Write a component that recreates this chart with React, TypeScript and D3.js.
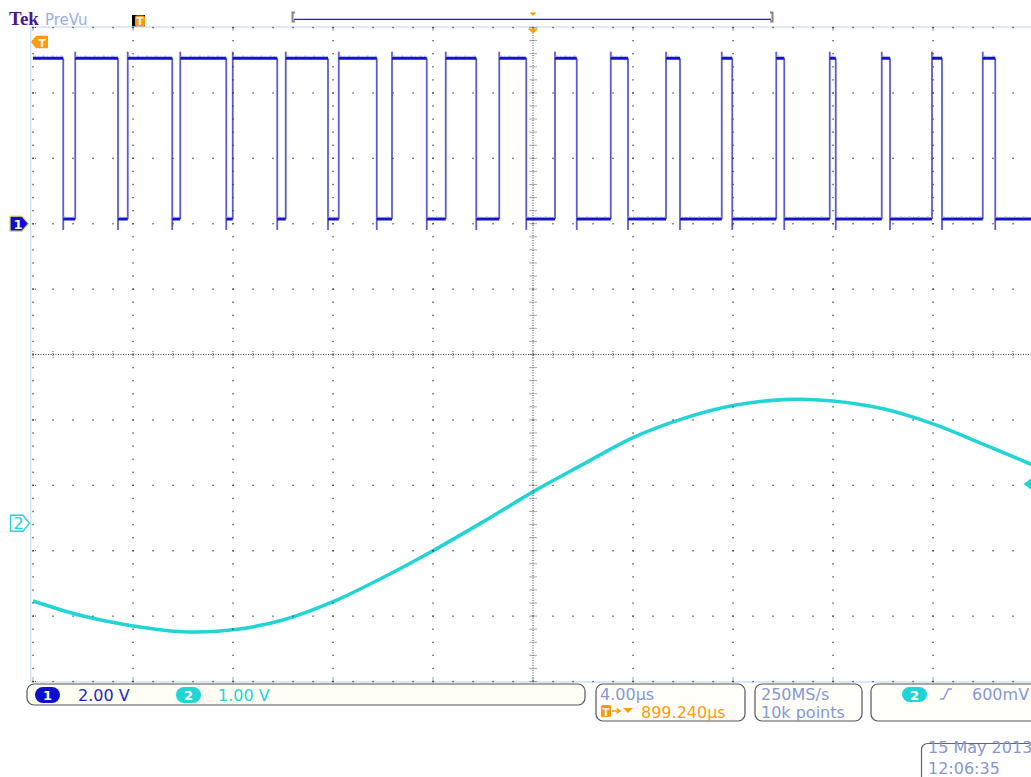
import React from "react";
import * as d3 from "d3";

// screen is 10 x 10 divisions, trigger point in the middle
const timePerDiv = 4; // µs/div
const ch1VoltsPerDiv = 2;
const ch2VoltsPerDiv = 1;

// channel 1: PWM square wave, edge times in µs
const ch1Falls = [-18.79, -16.6, -14.43, -12.27, -10.23, -8.2, -6.25, -4.25, -2.27, -0.27, 1.75, 3.8, 5.88, 7.97, 10.05, 12.11, 14.28, 16.36, 18.49];
const ch1Rises = [-18.31, -16.21, -14.11, -12.01, -9.89, -7.77, -5.64, -3.49, -1.35, 0.88, 3.11, 5.32, 7.55, 9.73, 11.87, 13.95, 15.96, 17.99];
const ch1High = 5.06;
const ch1Low = 0.14;
const ch1Over = 5.26;
const ch1Under = -0.19;

// channel 2: sine read every half division
const ch2Times = [-20, -18, -16, -14, -12, -10, -8, -6, -4, -2, 0, 2, 4, 6, 8, 10, 12, 14, 16, 18, 20];
const ch2Volts = [-1.19, -1.42, -1.57, -1.66, -1.63, -1.48, -1.2, -0.83, -0.42, 0.02, 0.48, 0.9, 1.31, 1.6, 1.8, 1.89, 1.87, 1.75, 1.52, 1.21, 0.89];

const ch1Offset = 2; // ground marker, divisions above centre
const ch2Offset = -2.58;
const triggerLevel = 0.6;

const statusLeft = ["2.00 V", "1.00 V"];
const horizLines = ["4.00µs", "899.240µs"];
const acqLines = ["250MS/s", "10k points"];
const trigText = "600mV";
const dateLines = ["15 May 2013", "12:06:35"];

const TEXT = "#8598d2";
const ORANGE = "#ff9a0e";
const BLUE = "#1414c8";
const CYAN = "#22d4d6";
const FONT = "DejaVu Sans, sans-serif";

export default function App() {
  const left = 33, top = 27.5, divW = 100, divH = 65.4;
  const gx = d3.scaleLinear().domain([0, 10]).range([left, left + 10 * divW]);
  const gy = d3.scaleLinear().domain([0, 10]).range([top, top + 10 * divH]);
  const x = d3.scaleLinear().domain([-5 * timePerDiv, 5 * timePerDiv]).range([gx(0), gx(10)]);
  const y1 = d3.scaleLinear()
    .domain([(-5 - ch1Offset) * ch1VoltsPerDiv, (5 - ch1Offset) * ch1VoltsPerDiv])
    .range([gy(10), gy(0)]);
  const y2 = d3.scaleLinear()
    .domain([(-5 - ch2Offset) * ch2VoltsPerDiv, (5 - ch2Offset) * ch2VoltsPerDiv])
    .range([gy(10), gy(0)]);

  const minors = d3.range(0, 10.001, 0.2);
  const majors = d3.range(0, 11);

  // graticule dots along the major lines
  const dots: [number, number][] = [];
  majors.filter((k) => k !== 5).forEach((k) => {
    minors.forEach((m) => {
      dots.push([gx(k), gy(m)]);
      dots.push([gx(m), gy(k)]);
    });
  });

  // square wave: horizontal levels and edges
  const edges = [
    ...ch1Falls.map((t) => ({ t, rise: false })),
    ...ch1Rises.map((t) => ({ t, rise: true })),
  ].sort((a, b) => a.t - b.t);
  const levels: { t0: number; t1: number; v: number }[] = [];
  let tPrev = x.domain()[0];
  let vPrev = ch1High;
  edges.forEach((e) => {
    levels.push({ t0: tPrev, t1: e.t, v: vPrev });
    tPrev = e.t;
    vPrev = e.rise ? ch1High : ch1Low;
  });
  levels.push({ t0: tPrev, t1: x.domain()[1], v: vPrev });

  const sine = d3.line<number>()
    .x((_, i) => x(ch2Times[i]))
    .y((v) => y2(v))
    .curve(d3.curveCatmullRom);

  const cx = gx(5), cy = gy(5);
  const g1 = y1(0), g2 = y2(0), tl = y2(triggerLevel);

  return (
    <svg width={1031} height={777} style={{ position: "absolute", left: 0, top: 0, background: "#fff" }}>
      <defs>
        <clipPath id="scr">
          <rect x={31} y={top} width={1000} height={10 * divH} />
        </clipPath>
      </defs>

      {/* header */}
      <text x={9} y={25} fontFamily="Liberation Serif, serif" fontWeight="bold" fontSize={19} fill="#4b1590">Tek</text>
      <text x={45} y={25} fontFamily={FONT} fontSize={15} fill="#9aaee0">PreVu</text>
      <rect x={132} y={15} width={13} height={12} fill="#000" />
      <rect x={135} y={15.5} width={10} height={11} rx={2} fill={ORANGE} />
      <text x={140} y={25} textAnchor="middle" fontFamily={FONT} fontWeight="bold" fontSize={10} fill="#fff">T</text>

      {/* record view */}
      <line x1={294} x2={771} y1={19.3} y2={19.3} stroke="#2222d0" strokeWidth={1.3} />
      <path d="M295,12.5 h-2.5 v9 h2.5" fill="none" stroke="#8a8088" strokeWidth={2} />
      <path d="M770,12.5 h2.5 v9 h-2.5" fill="none" stroke="#8a8088" strokeWidth={2} />
      <path d={`M${cx - 3.5},12.5 h7 l-3.5,3.5 z`} fill={ORANGE} />

      {/* screen frame */}
      <line x1={30.7} x2={30.7} y1={top} y2={gy(10)} stroke="#cfe2f2" strokeWidth={1.5} />
      <line x1={30.7} x2={1031} y1={top - 0.5} y2={top - 0.5} stroke="#cfe2f2" strokeWidth={1.5} />
      <line x1={30.7} x2={1031} y1={gy(10) + 0.5} y2={gy(10) + 0.5} stroke="#cfe2f2" strokeWidth={1.5} />

      {/* traces */}
      <g clipPath="url(#scr)">
        {edges.map((e, i) => (
          <line key={"e" + i} x1={x(e.t)} x2={x(e.t)}
            y1={y1(e.rise ? ch1Low : ch1High)} y2={y1(e.rise ? ch1Over : ch1Under)}
            stroke="#5c5cd0" strokeWidth={1.8} />
        ))}
        {levels.map((l, i) => (
          <line key={"l" + i} x1={x(l.t0)} x2={x(l.t1)} y1={y1(l.v)} y2={y1(l.v)}
            stroke={BLUE} strokeWidth={3} />
        ))}
        {levels.map((l, i) => (
          <line key={"h" + i} x1={x(l.t0)} x2={x(l.t1)} y1={y1(l.v) - 2} y2={y1(l.v) - 2}
            stroke="#9a9ae6" strokeWidth={1} strokeDasharray="3 2 1 3" />
        ))}
        <path d={sine(ch2Volts) || ""} fill="none" stroke={CYAN} strokeWidth={3.6} />
      </g>

      {/* graticule */}
      {dots.map(([dx, dy], i) => (
        <rect key={"d" + i} x={dx - 0.6} y={dy - 0.6} width={1.3} height={1.3} fill="#3a3a3a" />
      ))}
      <line x1={gx(0)} x2={1031} y1={cy} y2={cy} stroke="#444" strokeWidth={1} strokeDasharray="1 1.5" />
      <line x1={cx} x2={cx} y1={top} y2={gy(10)} stroke="#444" strokeWidth={1} strokeDasharray="1 1.5" />
      {minors.map((m) => (
        <g key={"t" + m}>
          <line x1={gx(m)} x2={gx(m)} y1={cy - 3.5} y2={cy + 3.5} stroke="#555" strokeWidth={1} strokeDasharray="1 1" />
          <line x1={cx - 3.5} x2={cx + 3.5} y1={gy(m)} y2={gy(m)} stroke="#555" strokeWidth={1} strokeDasharray="1 1" />
        </g>
      ))}
      {majors.map((k) => (
        <g key={"m" + k}>
          <line x1={gx(k)} x2={gx(k)} y1={top} y2={top + 4} stroke="#444" strokeWidth={1} strokeDasharray="1 1" />
          <line x1={gx(k)} x2={gx(k)} y1={gy(10) - 4} y2={gy(10)} stroke="#444" strokeWidth={1} strokeDasharray="1 1" />
          <line x1={gx(0)} x2={gx(0) + 4} y1={gy(k)} y2={gy(k)} stroke="#444" strokeWidth={1} strokeDasharray="1 1" />
        </g>
      ))}

      {/* trigger position & expansion markers */}
      <path d={`M${cx - 5.5},${top + 1} h11 l-5.5,5 z`} fill={ORANGE} />
      <path d="M31,42 L36,35.7 H48 V48.3 H36 Z" fill={ORANGE} />
      <text x={42} y={46.5} textAnchor="middle" fontFamily={FONT} fontWeight="bold" fontSize={11} fill="#fff">T</text>

      {/* channel ground markers */}
      <path d={`M10,${g1 - 7.5} H22 L28.5,${g1} L22,${g1 + 7.5} H10 Z`} fill="#1010cc" stroke="#e6dc6a" strokeWidth={1.2} />
      <text x={18} y={g1 + 5} textAnchor="middle" fontFamily={FONT} fontWeight="bold" fontSize={13} fill="#fff">1</text>
      <path d={`M10.5,${g2 - 8} H23 L29.5,${g2} L23,${g2 + 8} H10.5 Z`} fill="#fff" stroke={CYAN} strokeWidth={1.3} />
      <text x={18.5} y={g2 + 6} textAnchor="middle" fontFamily={FONT} fontSize={16} fill={CYAN}>2</text>
      <path d={`M1023.5,${tl} L1031,${tl - 5.5} V${tl + 5.5} Z`} fill={CYAN} />

      {/* status bar */}
      <rect x={27} y={684} width={558} height={21} rx={7} fill="#fffef4" stroke="#555" strokeWidth={1.2} />
      <rect x={35} y={687} width={25} height={16} rx={8} fill="#1010cc" />
      <text x={47.5} y={700} textAnchor="middle" fontFamily={FONT} fontWeight="bold" fontSize={13} fill="#fff">1</text>
      <text x={78} y={701} fontFamily={FONT} fontSize={16} fill="#2626cc">{statusLeft[0]}</text>
      <rect x={176} y={687} width={25} height={16} rx={8} fill={CYAN} />
      <text x={188.5} y={700} textAnchor="middle" fontFamily={FONT} fontWeight="bold" fontSize={13} fill="#fff">2</text>
      <text x={218} y={701} fontFamily={FONT} fontSize={16} fill={CYAN}>{statusLeft[1]}</text>

      <rect x={596} y={684} width={149} height={37} rx={7} fill="#fffef9" stroke="#555" strokeWidth={1.2} />
      <text x={600} y={700} fontFamily={FONT} fontSize={16} fill={TEXT}>{horizLines[0]}</text>
      <rect x={601} y={705} width={10} height={12} rx={1.5} fill={ORANGE} />
      <text x={606} y={715.5} textAnchor="middle" fontFamily={FONT} fontWeight="bold" fontSize={10} fill="#fff">T</text>
      <path d="M612,711 H619 M616.5,708.5 L620,711 L616.5,713.5" fill="none" stroke={ORANGE} strokeWidth={1.5} />
      <path d="M623,708 H633 L628,713 Z" fill={ORANGE} />
      <text x={641} y={718} fontFamily={FONT} fontSize={16} fill={ORANGE}>{horizLines[1]}</text>

      <rect x={755} y={684} width={107} height={37} rx={7} fill="#fffef9" stroke="#555" strokeWidth={1.2} />
      <text x={761} y={700} fontFamily={FONT} fontSize={16} fill={TEXT}>{acqLines[0]}</text>
      <text x={761} y={718} fontFamily={FONT} fontSize={16} fill={TEXT}>{acqLines[1]}</text>

      <rect x={871} y={684} width={200} height={37} rx={7} fill="#fffef9" stroke="#555" strokeWidth={1.2} />
      <rect x={902} y={687} width={25} height={15} rx={7.5} fill={CYAN} />
      <text x={914.5} y={699.5} textAnchor="middle" fontFamily={FONT} fontWeight="bold" fontSize={13} fill="#fff">2</text>
      <path d="M940,699 H943.5 L948.5,689 H952" fill="none" stroke={TEXT} strokeWidth={1.5} />
      <text x={972} y={700} fontFamily={FONT} fontSize={16} fill={TEXT}>{trigText}</text>

      <rect x={921.5} y={743.5} width={130} height={45} rx={6} fill="#fff" stroke="#666" strokeWidth={1.2} />
      <text x={928} y={753} fontFamily={FONT} fontSize={16} fill={TEXT}>{dateLines[0]}</text>
      <text x={928} y={774} fontFamily={FONT} fontSize={16} fill={TEXT}>{dateLines[1]}</text>
    </svg>
  );
}
